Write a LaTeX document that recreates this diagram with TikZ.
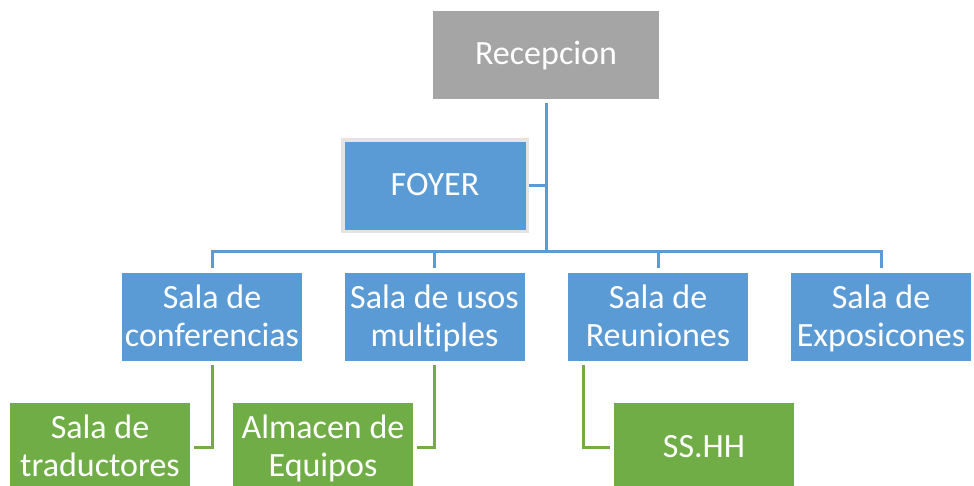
\documentclass[tikz,border=0pt]{standalone}
\usepackage{fontspec}
\setmainfont{Carlito}[Ligatures=NoCommon]
\definecolor{cblue}{HTML}{5B9BD5}
\definecolor{cgray}{HTML}{A5A5A5}
\definecolor{cgreen}{HTML}{70AD47}
\definecolor{cborder}{HTML}{E4E4E4}
\newcommand\lnstrut{\rule[-9pt]{0pt}{38pt}}
\begin{document}
\begin{tikzpicture}[x=1pt,y=-1pt,
  box/.style={minimum width=180pt,minimum height=88pt,inner sep=0pt,outer sep=0pt,
    text=white,align=center,font=\fontsize{34}{38}\selectfont},
  bluebox/.style={box,fill=cblue},
  graybox/.style={box,fill=cgray},
  greenbox/.style={box,fill=cgreen},
  bl/.style={draw=cblue,line width=3pt},
  gr/.style={draw=cgreen,line width=3pt}]
\useasboundingbox (0,0) rectangle (974,486);
\node[graybox,minimum width=226pt] (rec) at (546,55) {\lnstrut Recepcion};
\node[bluebox,draw=cborder,line width=3.5pt,minimum width=184.5pt,minimum height=91.5pt] (foyer) at (435,186) {\lnstrut FOYER};
\node[bluebox] (conf) at (212,317) {\lnstrut Sala de\\\lnstrut conferencias};
\node[bluebox] (usos) at (434.5,317) {\lnstrut Sala de usos\\\lnstrut multiples};
\node[bluebox] (reun) at (658,317) {\lnstrut Sala de\\\lnstrut Reuniones};
\node[bluebox] (expo) at (881,317) {\lnstrut Sala de\\\lnstrut Exposicones};
\node[greenbox] (trad) at (100,447) {\lnstrut Sala de\\\lnstrut traductores};
\node[greenbox] (alm) at (323,447) {\lnstrut Almacen de\\\lnstrut Equipos};
\node[greenbox] (ss) at (704,447) {\lnstrut SS.HH};
\coordinate (hub) at (546,252);
\draw[bl] ([yshift=-4pt]rec.south) -- (hub);
\draw[bl] ([xshift=2pt]foyer.east) -- (foyer.east -| hub);
\draw[bl] ([yshift=5pt]conf.north) -- (conf.north |- hub) -- (expo.north |- hub) -- ([yshift=5pt]expo.north);
\draw[bl] ([yshift=5pt]usos.north) -- (usos.north |- hub);
\draw[bl] ([yshift=5pt]reun.north) -- (reun.north |- hub);
\draw[gr] ([yshift=-4pt]conf.south) |- ([xshift=4pt]trad.east);
\draw[gr] ([yshift=-4pt]usos.south) |- ([xshift=4pt]alm.east);
\draw[gr] ([xshift=15pt,yshift=-4pt]reun.south west) |- ([xshift=-4pt]ss.west);
\end{tikzpicture}
\end{document}
